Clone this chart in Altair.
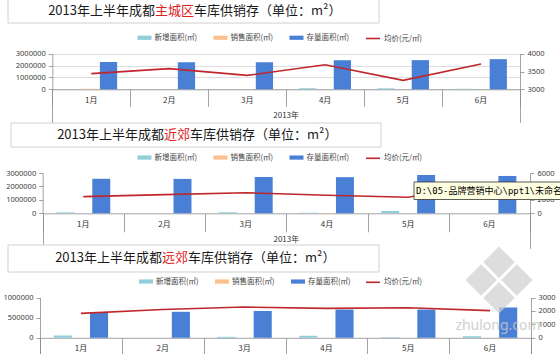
import altair as alt
import pandas as pd

W, H = 560, 354

months = ['1月', '2月', '3月', '4月', '5月', '6月']
bar_series = ['新增面积(㎡)', '销售面积(㎡)', '存量面积(㎡)']
line_series = ['均价(元/㎡)']
bar_colors = ['#92CDDC', '#FAC08F', '#4A7FD6']
line_color = '#C0272D'

title_head = '2013年上半年成都'
title_tail = '车库供销存（单位：m²）'
regions = ['主城区', '近郊', '远郊']
year_label = '2013年'
tooltip_text = 'D:\\05-品牌营销中心\\ppt1\\未命名-'
watermark_text = 'zhulong.com'

# 主城区
main_new = [0, 0, 0, 90000, 80000, 40000]
main_sale = [40000, 0, 0, 0, 0, 0]
main_stock = [2300000, 2280000, 2280000, 2450000, 2460000, 2540000]
main_price = [3440, 3580, 3390, 3690, 3250, 3710]
# 近郊
near_new = [70000, 0, 80000, 40000, 170000, 0]
near_sale = [0, 0, 0, 20000, 0, 0]
near_stock = [2570000, 2560000, 2700000, 2690000, 2850000, 2780000]
near_price = [2490, 2780, 3070, 2680, 2390, 4430]
# 远郊
far_new = [55000, 0, 25000, 50000, 15000, 40000]
far_sale = [0, 0, 0, 0, 0, 0]
far_stock = [620000, 645000, 665000, 700000, 700000, 750000]
far_price = [1820, 2110, 2290, 2190, 2240, 2020]

left_ticks = [[0, 1000000, 2000000, 3000000], [0, 1000000, 2000000, 3000000], [0, 500000, 1000000]]
left_max = [3000000, 3000000, 1000000]
right_ticks = [[3000, 3500, 4000], [0, 2000, 4000, 6000], [0, 1000, 2000, 3000]]
right_dom = [[3000, 4000], [0, 6000], [0, 3000]]

panel_data = [
    (main_new, main_sale, main_stock, main_price),
    (near_new, near_sale, near_stock, near_price),
    (far_new, far_sale, far_stock, far_price),
]

# layout (pixels)
layout = [
    dict(xl=52.3, xr=520, y0=89.3, yt=53.7, sep=17, ext=33, box=(8, 379, -1, 23), ty=11, bnd=155, legy=37.5, legx=137.5, linex=365),
    dict(xl=42.7, xr=530, y0=213.3, yt=173, sep=18.5, ext=35, box=(11, 381, 123, 147), ty=135, bnd=164, legy=157.3, legx=137.5, linex=365),
    dict(xl=40, xr=531, y0=337.8, yt=297.5, sep=20, ext=20, box=(8, 379, 245, 272), ty=258, bnd=162, legy=281.3, legx=139, linex=365),
]

FS_T = 13
CJK = 'Noto Sans CJK SC'
GRAY = '#8C8C8C'


def ax(**kw):
    base = dict(labelFont='Noto Sans', labelFontSize=7.5, labelColor='#404040',
                domainColor=GRAY, tickColor=GRAY, domainWidth=0.8, tickWidth=0.8, title=None)
    base.update(kw)
    return alt.Axis(**base)


layers = []
one = pd.DataFrame({'k': [0]})

for i, (p, (nw, sl, st, pr)) in enumerate(zip(layout, panel_data)):
    # title box
    x1, x2, y1, y2 = p['box']
    layers.append(alt.Chart(one).mark_rect(fill='white', stroke='#D0D0D0', strokeWidth=1).encode(
        x=alt.value(x1), x2=alt.value(x2), y=alt.value(y1), y2=alt.value(y2)))
    bnd = p['bnd']
    layers.append(alt.Chart(pd.DataFrame({'t': [title_head]})).mark_text(
        font=CJK, fontSize=FS_T, color='#1A1A1A', align='right', baseline='middle').encode(
        x=alt.value(bnd), y=alt.value(p['ty']), text='t:N'))
    layers.append(alt.Chart(pd.DataFrame({'t': [regions[i]]})).mark_text(
        font=CJK, fontSize=FS_T, color='#E0201B', align='left', baseline='middle').encode(
        x=alt.value(bnd), y=alt.value(p['ty']), text='t:N'))
    layers.append(alt.Chart(pd.DataFrame({'t': [title_tail]})).mark_text(
        font=CJK, fontSize=FS_T, color='#1A1A1A', align='left', baseline='middle').encode(
        x=alt.value(bnd + len(regions[i]) * FS_T), y=alt.value(p['ty']), text='t:N'))

    xscale = dict(domain=months, range=[p['xl'], p['xr']], paddingInner=0, paddingOuter=0)

    rows = []
    for s, vals in zip(bar_series, (nw, sl, st)):
        for m, v in zip(months, vals):
            rows.append({'month': m, 'series': s, 'value': v})
    dfb = pd.DataFrame(rows)

    bars = alt.Chart(dfb).mark_bar().encode(
        x=alt.X('month:N', sort=months, scale=alt.Scale(**xscale),
                axis=ax(orient='bottom', offset=p['y0'] - H, ticks=False, domain=False,
                        labelFont=CJK, labelFontSize=8, labelAngle=0, labelPadding=7, labelColor='#333333')),
        xOffset=alt.XOffset('series:N', sort=bar_series,
                            scale=alt.Scale(domain=bar_series, paddingInner=0, paddingOuter=0.76)),
        y=alt.Y('value:Q', stack=None,
                scale=alt.Scale(domain=[0, left_max[i]], range=[p['y0'], p['yt']], nice=False),
                axis=ax(orient='left', offset=-p['xl'], values=left_ticks[i], format='d',
                        tickSize=4, labelPadding=3)),
        color=alt.Color('series:N', sort=bar_series,
                        scale=alt.Scale(domain=bar_series, range=bar_colors),
                        legend=alt.Legend(orient='none', legendX=p['legx'], legendY=p['legy'] - 7,
                                          direction='horizontal', title=None, padding=0,
                                          symbolType='M-1,-0.3H1V0.3H-1Z', symbolSize=196,
                                          symbolStrokeWidth=0, labelFont=CJK, labelFontSize=7.5,
                                          labelColor='#404040', labelOffset=3, columnPadding=16)),
    )

    dfl = pd.DataFrame({'month': months, 'price': pr, 's': line_series * len(months)})
    line = alt.Chart(dfl).mark_line(strokeWidth=1.6).encode(
        x=alt.X('month:N', sort=months, scale=alt.Scale(**xscale),
                axis=ax(orient='bottom', offset=p['y0'] - H, tickBand='extent', tickSize=p['sep'],
                        labels=False, domain=True)),
        y=alt.Y('price:Q', scale=alt.Scale(domain=right_dom[i], range=[p['y0'], p['yt']], nice=False, zero=False),
                axis=ax(orient='right', offset=p['xr'] - W, values=right_ticks[i], format='d',
                        tickSize=4, labelPadding=3)),
        stroke=alt.Stroke('s:N', scale=alt.Scale(domain=line_series, range=[line_color]),
                          legend=alt.Legend(orient='none', legendX=p['linex'], legendY=p['legy'] - 7,
                                            direction='horizontal', title=None, padding=0,
                                            symbolType='stroke', symbolSize=196, symbolStrokeWidth=1.6,
                                            labelFont=CJK, labelFontSize=7.5, labelColor='#404040',
                                            labelOffset=3)),
    )

    year = alt.Chart(pd.DataFrame({'year': [year_label]})).mark_text(
        font=CJK, fontSize=8, color='#333333', baseline='middle').encode(
        x=alt.X('year:N', scale=alt.Scale(domain=[year_label], range=[p['xl'], p['xr']],
                                          paddingInner=0, paddingOuter=0),
                axis=ax(orient='bottom', offset=p['y0'] - H, tickBand='extent', tickSize=p['ext'],
                        labels=False, domain=False)),
        y=alt.value(p['y0'] + 26.7),
        text='year:N',
    )
    layers += [bars, line, year]

# tooltip overlay
layers.append(alt.Chart(one).mark_rect(fill='#FFFFE1', stroke='#333333', strokeWidth=0.8).encode(
    x=alt.value(414), x2=alt.value(566), y=alt.value(182), y2=alt.value(199.5)))
layers.append(alt.Chart(pd.DataFrame({'t': [tooltip_text]})).mark_text(
    font='DejaVu Sans Mono, Noto Sans CJK SC', fontSize=9, color='#000000', align='left', baseline='middle').encode(
    x=alt.value(416), y=alt.value(191), text='t:N'))

# watermark
star = ('M0,-0.96L0.45,-0.51L0,-0.06L-0.45,-0.51Z'
        'M0.96,0L0.51,0.45L0.06,0L0.51,-0.45Z'
        'M0,0.96L0.45,0.51L0,0.06L-0.45,0.51Z'
        'M-0.96,0L-0.51,-0.45L-0.06,0L-0.51,0.45Z')
layers.append(alt.Chart(one).mark_point(shape=star, filled=True, size=4900, fill='#CFCFCF',
                                        opacity=0.7, strokeWidth=0).encode(
    x=alt.value(499), y=alt.value(280)))
layers.append(alt.Chart(pd.DataFrame({'t': [watermark_text]})).mark_text(
    font='Noto Sans', fontSize=14, color='#C8C8C8', opacity=0.85, baseline='middle').encode(
    x=alt.value(498), y=alt.value(326), text='t:N'))

chart = alt.layer(*layers).resolve_scale(
    x='independent', y='independent', xOffset='independent', color='independent', stroke='independent'
).properties(
    width=W, height=H, autosize=alt.AutoSizeParams(type='none'), padding=0
).configure_view(stroke=None)

chart.save('out.html', embed_options={'renderer': 'svg', 'actions': False})
